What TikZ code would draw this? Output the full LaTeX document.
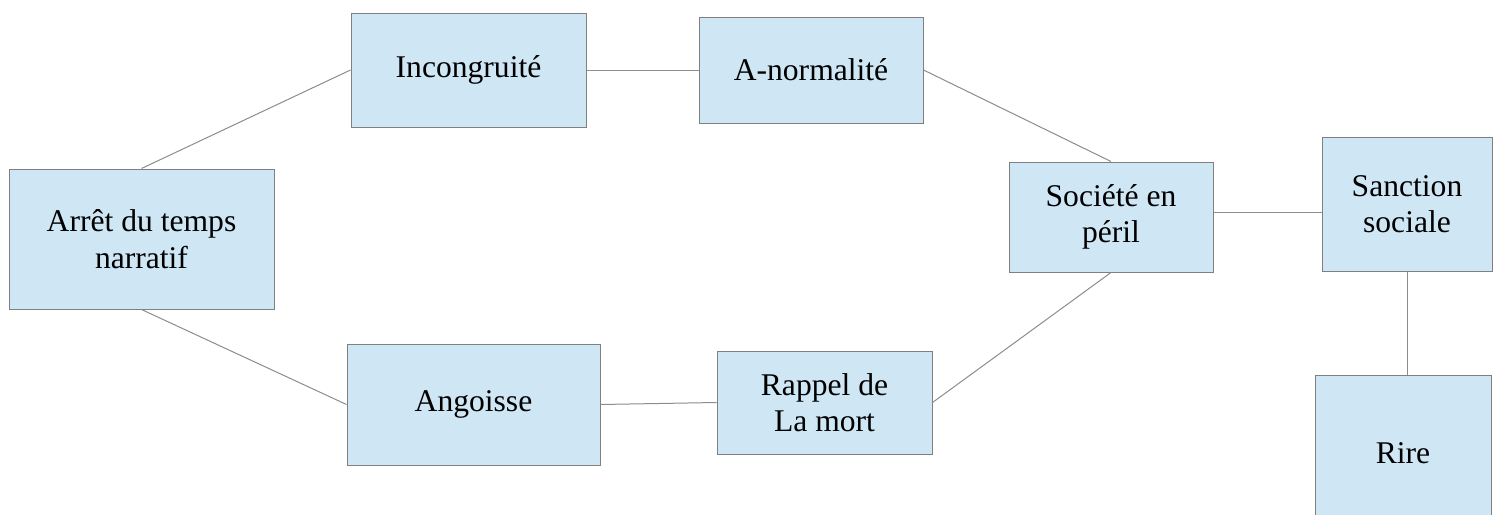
\documentclass[tikz,border=0pt]{standalone}
\usepackage{fontspec}
\setmainfont{Liberation Serif}
\usetikzlibrary{positioning}
\definecolor{myfill}{RGB}{207,231,245}
\definecolor{myline}{RGB}{128,128,128}
\definecolor{mylink}{RGB}{140,140,140}

\begin{document}
\begin{tikzpicture}[x=0.5pt,y=-0.5pt,
  bloc/.style={draw=myline,fill=myfill,line width=0.5pt,align=center,
    inner sep=0pt,font=\fontsize{15.8}{18.2}\selectfont},
  lien/.style={draw=mylink,line width=0.5pt}]

  \path[use as bounding box,clip] (0,0) rectangle (1498,514);

  \node[bloc,minimum width=132.5pt,minimum height=70pt] (arret) at (141.5,239) {Arrêt du temps\\narratif};

  \node[bloc,minimum width=117.5pt,minimum height=57pt] (incong) at (468.5,70) {Incongruité};
  \node[bloc,minimum width=112pt,minimum height=53pt,right=56pt of incong] (anorm) {A-normalité};

  \node[bloc,minimum width=126.5pt,minimum height=60.5pt] (angoisse) at (473.5,404.5) {Angoisse};
  \node[bloc,minimum width=107.5pt,minimum height=51.5pt] (rappel) at (824.5,402.5) {Rappel de\\La mort};

  \node[bloc,minimum width=102pt,minimum height=55pt] (societe) at (1111,217) {Société en\\péril};
  \node[bloc,minimum width=85pt,minimum height=67pt] (sanction) at (1407,204) {Sanction\\sociale};
  \node[bloc,minimum width=88pt,minimum height=78pt] (rire) at (1403,453) {Rire};

  % upper branch
  \draw[lien] (arret.north) edge (incong.west)
    (incong.east) edge (anorm.west)
    (anorm.east) edge (societe.north);

  % lower branch
  \draw[lien] (arret.south) edge (angoisse.west)
    (angoisse.east) edge (rappel.west)
    (rappel.east) edge (societe.south);

  % right side
  \draw[lien] ([yshift=2.5pt]societe.east) -- ([yshift=2.5pt]societe.east -| sanction.west);
  \draw[lien] (sanction.south) -- (sanction.south |- rire.north);

\end{tikzpicture}
\end{document}
